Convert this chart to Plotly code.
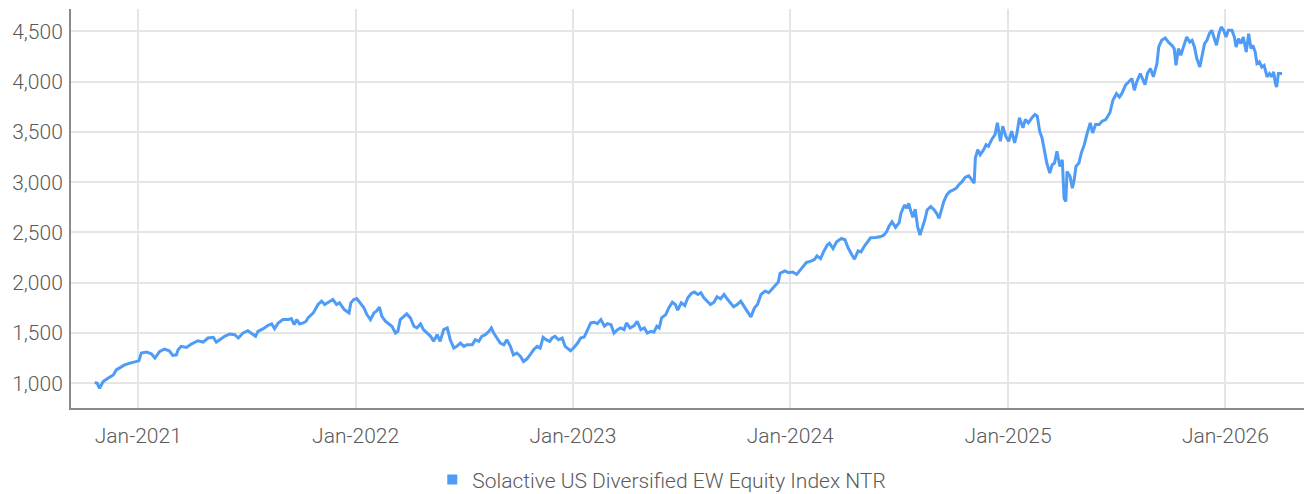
import plotly.graph_objects as go

# ---- data ----
d2020 = ["2020-10-20", "2020-10-24", "2020-10-28", "2020-11-03", "2020-11-11", "2020-11-20",
         "2020-11-25", "2020-12-04", "2020-12-09", "2020-12-18", "2020-12-25"]
v2020 = [1010, 1000, 950, 1017, 1050, 1083, 1133, 1167, 1183, 1200, 1210]

d2021 = ["2021-01-02", "2021-01-06", "2021-01-15", "2021-01-23", "2021-01-29", "2021-02-06",
         "2021-02-14", "2021-02-22", "2021-02-28", "2021-03-06", "2021-03-09", "2021-03-14",
         "2021-03-23", "2021-03-31", "2021-04-11", "2021-04-20", "2021-04-28", "2021-05-07",
         "2021-05-12", "2021-05-18", "2021-05-26", "2021-06-04", "2021-06-12", "2021-06-18",
         "2021-06-26", "2021-07-04", "2021-07-10", "2021-07-17", "2021-07-21", "2021-07-30",
         "2021-08-07", "2021-08-13", "2021-08-18", "2021-08-24", "2021-09-01", "2021-09-10",
         "2021-09-15", "2021-09-20", "2021-09-24", "2021-09-29", "2021-10-05", "2021-10-10",
         "2021-10-13", "2021-10-22", "2021-10-30", "2021-11-05", "2021-11-10", "2021-11-19",
         "2021-11-24", "2021-11-30", "2021-12-05", "2021-12-13", "2021-12-21", "2021-12-24",
         "2021-12-29"]
v2021 = [1223, 1300, 1310, 1293, 1250, 1317, 1340, 1323, 1277, 1283, 1333, 1367,
         1357, 1390, 1423, 1410, 1450, 1457, 1410, 1433, 1467, 1490, 1483, 1450,
         1500, 1523, 1500, 1467, 1517, 1543, 1577, 1590, 1543, 1600, 1633, 1633,
         1643, 1583, 1633, 1590, 1600, 1617, 1650, 1700, 1783, 1817, 1783, 1817,
         1833, 1783, 1800, 1733, 1700, 1800, 1833]

d2022 = ["2022-01-03", "2022-01-09", "2022-01-15", "2022-01-20", "2022-01-26", "2022-02-01",
         "2022-02-05", "2022-02-10", "2022-02-14", "2022-02-20", "2022-02-26", "2022-03-03",
         "2022-03-09", "2022-03-13", "2022-03-17", "2022-03-23", "2022-03-28", "2022-04-03",
         "2022-04-09", "2022-04-14", "2022-04-20", "2022-04-25", "2022-05-01", "2022-05-07",
         "2022-05-12", "2022-05-18", "2022-05-23", "2022-05-29", "2022-06-04", "2022-06-09",
         "2022-06-15", "2022-06-20", "2022-06-26", "2022-07-02", "2022-07-07", "2022-07-16",
         "2022-07-21", "2022-07-27", "2022-08-01", "2022-08-07", "2022-08-13", "2022-08-17",
         "2022-08-21", "2022-08-27", "2022-09-01", "2022-09-07", "2022-09-12", "2022-09-18",
         "2022-09-23", "2022-09-29", "2022-10-05", "2022-10-10", "2022-10-16", "2022-10-21",
         "2022-10-27", "2022-11-02", "2022-11-07", "2022-11-12", "2022-11-17", "2022-11-23",
         "2022-11-27", "2022-12-02", "2022-12-08", "2022-12-14", "2022-12-19", "2022-12-28"]
v2022 = [1843, 1800, 1750, 1683, 1633, 1700, 1717, 1757, 1667, 1617, 1590, 1567,
         1500, 1517, 1633, 1667, 1690, 1650, 1567, 1550, 1590, 1533, 1500, 1467,
         1417, 1483, 1417, 1533, 1550, 1433, 1350, 1367, 1400, 1367, 1383, 1383,
         1433, 1417, 1467, 1483, 1517, 1550, 1500, 1450, 1400, 1383, 1433, 1367,
         1283, 1300, 1267, 1217, 1243, 1283, 1333, 1367, 1350, 1457, 1433, 1417,
         1450, 1467, 1433, 1450, 1367, 1323]

d2023 = ["2023-01-02", "2023-01-09", "2023-01-14", "2023-01-20", "2023-01-26", "2023-01-31",
         "2023-02-06", "2023-02-11", "2023-02-17", "2023-02-23", "2023-02-28", "2023-03-06",
         "2023-03-11", "2023-03-17", "2023-03-22", "2023-03-28", "2023-04-01", "2023-04-07",
         "2023-04-14", "2023-04-19", "2023-04-25", "2023-05-01", "2023-05-06", "2023-05-12",
         "2023-05-17", "2023-05-22", "2023-05-26", "2023-05-30", "2023-06-06", "2023-06-11",
         "2023-06-17", "2023-06-22", "2023-06-26", "2023-07-02", "2023-07-08", "2023-07-13",
         "2023-07-19", "2023-07-24", "2023-07-30", "2023-08-04", "2023-08-09", "2023-08-14",
         "2023-08-20", "2023-08-26", "2023-08-31", "2023-09-06", "2023-09-12", "2023-09-17",
         "2023-09-22", "2023-09-28", "2023-10-04", "2023-10-10", "2023-10-16", "2023-10-22",
         "2023-10-27", "2023-11-02", "2023-11-07", "2023-11-13", "2023-11-20", "2023-11-26",
         "2023-12-01", "2023-12-07", "2023-12-12", "2023-12-15", "2023-12-23", "2023-12-29"]
v2023 = [1350, 1400, 1450, 1460, 1533, 1600, 1607, 1593, 1633, 1567, 1593, 1583,
         1500, 1533, 1550, 1533, 1600, 1550, 1573, 1617, 1533, 1550, 1500, 1517,
         1507, 1567, 1550, 1650, 1683, 1750, 1807, 1783, 1727, 1800, 1773, 1850,
         1893, 1907, 1883, 1900, 1850, 1817, 1783, 1807, 1860, 1840, 1883, 1840,
         1807, 1760, 1783, 1817, 1760, 1700, 1660, 1750, 1783, 1883, 1917, 1900,
         1933, 1967, 2007, 2093, 2117, 2100]

d2024 = ["2024-01-05", "2024-01-12", "2024-01-17", "2024-01-23", "2024-01-28", "2024-02-06",
         "2024-02-11", "2024-02-15", "2024-02-21", "2024-02-26", "2024-03-03", "2024-03-07",
         "2024-03-13", "2024-03-19", "2024-03-27", "2024-04-02", "2024-04-07", "2024-04-13",
         "2024-04-18", "2024-04-24", "2024-04-29", "2024-05-05", "2024-05-12", "2024-05-15",
         "2024-05-23", "2024-05-31", "2024-06-06", "2024-06-11", "2024-06-15", "2024-06-20",
         "2024-06-26", "2024-07-02", "2024-07-05", "2024-07-11", "2024-07-15", "2024-07-18",
         "2024-07-21", "2024-07-25", "2024-07-29", "2024-08-02", "2024-08-06", "2024-08-10",
         "2024-08-14", "2024-08-18", "2024-08-24", "2024-08-30", "2024-09-03", "2024-09-07",
         "2024-09-11", "2024-09-15", "2024-09-20", "2024-09-25", "2024-10-01", "2024-10-06",
         "2024-10-10", "2024-10-16", "2024-10-21", "2024-10-27", "2024-11-01", "2024-11-05",
         "2024-11-07", "2024-11-11", "2024-11-15", "2024-11-21", "2024-11-25", "2024-11-29",
         "2024-12-05", "2024-12-10", "2024-12-14", "2024-12-19", "2024-12-23", "2024-12-28"]
v2024 = [2107, 2083, 2117, 2167, 2200, 2217, 2233, 2267, 2240, 2307, 2373, 2393,
         2340, 2407, 2440, 2427, 2350, 2283, 2233, 2317, 2307, 2367, 2427, 2447,
         2450, 2457, 2473, 2507, 2563, 2607, 2550, 2597, 2690, 2773, 2740, 2790,
         2723, 2650, 2730, 2557, 2473, 2540, 2623, 2723, 2757, 2723, 2690, 2640,
         2723, 2807, 2873, 2907, 2923, 2940, 2973, 3007, 3050, 3063, 3023, 2990,
         3240, 3323, 3273, 3323, 3373, 3357, 3430, 3473, 3590, 3407, 3557, 3457]

d2025 = ["2025-01-02", "2025-01-07", "2025-01-12", "2025-01-16", "2025-01-20", "2025-01-26",
         "2025-01-30", "2025-02-04", "2025-02-10", "2025-02-15", "2025-02-19", "2025-02-23",
         "2025-02-27", "2025-03-03", "2025-03-07", "2025-03-12", "2025-03-16", "2025-03-20",
         "2025-03-24", "2025-03-29", "2025-04-02", "2025-04-05", "2025-04-08", "2025-04-10",
         "2025-04-15", "2025-04-19", "2025-04-22", "2025-04-25", "2025-04-30", "2025-05-04",
         "2025-05-09", "2025-05-14", "2025-05-19", "2025-05-23", "2025-05-28", "2025-06-03",
         "2025-06-08", "2025-06-14", "2025-06-21", "2025-06-26", "2025-07-02", "2025-07-07",
         "2025-07-11", "2025-07-17", "2025-07-22", "2025-07-28", "2025-08-01", "2025-08-05",
         "2025-08-11", "2025-08-15", "2025-08-19", "2025-08-23", "2025-08-28", "2025-09-02",
         "2025-09-08", "2025-09-11", "2025-09-16", "2025-09-22", "2025-09-27", "2025-10-03",
         "2025-10-07", "2025-10-10", "2025-10-14", "2025-10-18", "2025-10-23", "2025-10-28",
         "2025-11-02", "2025-11-06", "2025-11-10", "2025-11-14", "2025-11-19", "2025-11-23",
         "2025-11-27", "2025-12-01", "2025-12-05", "2025-12-09", "2025-12-13", "2025-12-17",
         "2025-12-21", "2025-12-25", "2025-12-29"]
v2025 = [3407, 3507, 3390, 3490, 3640, 3540, 3623, 3590, 3640, 3673, 3657, 3507,
         3440, 3323, 3190, 3090, 3173, 3190, 3307, 3157, 3223, 2840, 2807, 3107,
         3057, 2940, 3023, 3157, 3190, 3290, 3373, 3490, 3590, 3490, 3573, 3573,
         3607, 3623, 3690, 3815, 3880, 3847, 3880, 3963, 3997, 4030, 3914, 3997,
         4080, 4030, 3970, 4080, 4130, 4047, 4179, 4344, 4411, 4434, 4394, 4361,
         4328, 4162, 4328, 4262, 4344, 4444, 4394, 4411, 4344, 4229, 4146, 4262,
         4378, 4411, 4477, 4510, 4444, 4361, 4477, 4543, 4510]

d2026 = ["2026-01-02", "2026-01-06", "2026-01-12", "2026-01-16", "2026-01-19", "2026-01-23",
         "2026-01-27", "2026-01-31", "2026-02-05", "2026-02-09", "2026-02-13", "2026-02-16",
         "2026-02-20", "2026-02-23", "2026-02-27", "2026-03-03", "2026-03-07", "2026-03-12",
         "2026-03-16", "2026-03-20", "2026-03-23", "2026-03-26", "2026-03-28", "2026-03-31",
         "2026-04-06"]
v2026 = [4444, 4510, 4510, 4444, 4344, 4427, 4378, 4444, 4295, 4477, 4328, 4361,
         4295, 4179, 4196, 4146, 4162, 4047, 4080, 4047, 4097, 3980, 3947, 4080,
         4080]

series_name = "Solactive US Diversified EW Equity Index NTR"
y_ticks = [1000, 1500, 2000, 2500, 3000, 3500, 4000, 4500]
x_ticks = ["2021-01-01", "2022-01-01", "2023-01-01", "2024-01-01", "2025-01-01", "2026-01-01"]
x_ticktext = ["Jan-2021", "Jan-2022", "Jan-2023", "Jan-2024", "Jan-2025", "Jan-2026"]

pairs = [(d2020, v2020), (d2021, v2021), (d2022, v2022), (d2023, v2023),
         (d2024, v2024), (d2025, v2025), (d2026, v2026)]
dates, values = [], []
for d, v in pairs:
    if len(d) != len(v):
        raise ValueError(f"length mismatch {d[0]}: {len(d)} vs {len(v)}")
    dates += d
    values += v

LINE = "#4f9cf7"
TXT = "#5a5a5a"
GRID = "#e5e5e5"
AX = "#8a8a8a"
FONT = "Roboto"

fig = go.Figure()
fig.add_trace(go.Scatter(x=dates, y=values, mode="lines", showlegend=False,
                         line=dict(color=LINE, width=3), name=series_name))
fig.add_trace(go.Scatter(x=[None], y=[None], mode="markers", name=series_name,
                         marker=dict(symbol="square", size=10, color=LINE)))

fig.update_layout(
    width=1304, height=494,
    margin=dict(l=71, r=0, t=9, b=86, autoexpand=False),
    paper_bgcolor="white", plot_bgcolor="white",
    font=dict(family=FONT, size=21, color=TXT, weight=300),
    showlegend=True,
    legend=dict(orientation="h", xref="paper", yref="paper",
                x=0.293, xanchor="left", y=-0.18, yanchor="middle",
                font=dict(family=FONT, size=21, color=TXT, weight=300),
                itemwidth=30, bgcolor="rgba(0,0,0,0)"),
    xaxis=dict(type="date", range=["2020-09-10", "2026-05-13"], automargin=False,
               tickvals=x_ticks, ticktext=x_ticktext,
               showgrid=True, gridcolor=GRID, gridwidth=2,
               showline=True, linecolor=AX, linewidth=2,
               ticks="outside", ticklen=8, tickcolor="rgba(0,0,0,0)",
               zeroline=False,
               tickfont=dict(family=FONT, size=21, color=TXT, weight=300)),
    yaxis=dict(range=[754, 4722], tickvals=y_ticks, tickformat=",d", automargin=False,
               showgrid=True, gridcolor=GRID, gridwidth=2,
               showline=True, linecolor=AX, linewidth=2,
               ticks="outside", ticklen=2, tickcolor="rgba(0,0,0,0)",
               zeroline=False,
               tickfont=dict(family=FONT, size=21, color=TXT, weight=300)),
)

fig.write_html(
    "out.html",
    config={"displayModeBar": False},
    post_script="document.body.style.margin='0';document.body.style.overflow='hidden';",
)
